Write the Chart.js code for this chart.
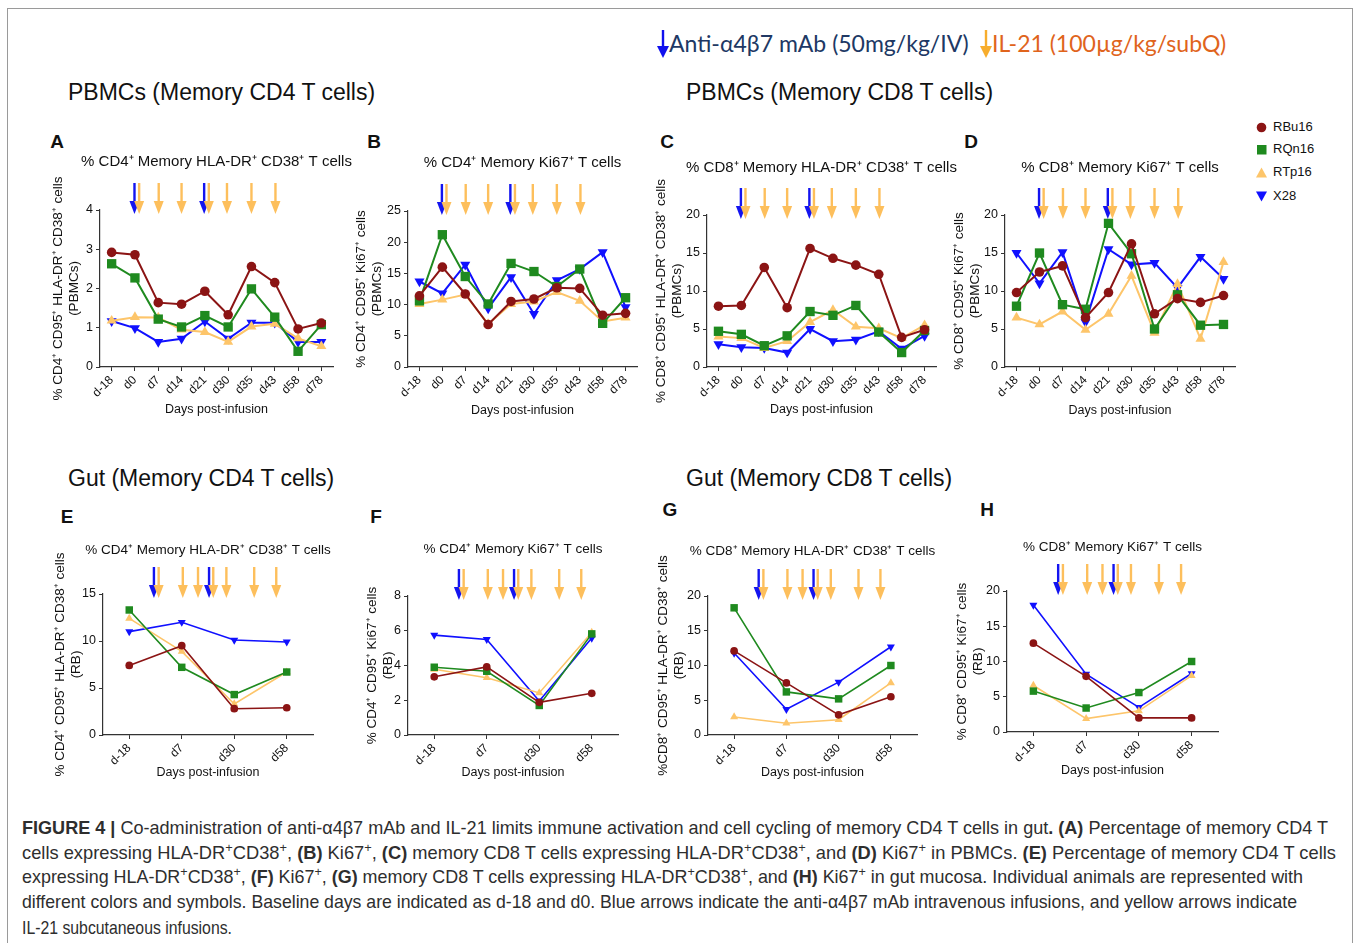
<!DOCTYPE html>
<html>
<head>
<meta charset="utf-8">
<script src="https://cdn.jsdelivr.net/npm/chart.js@4.4.1/dist/chart.umd.min.js"></script>
<style>
  body { margin: 0; background: #fff; width: 1360px; height: 943px; position: relative; overflow: hidden;
         font-family: 'Liberation Sans', Arial, sans-serif; color: #111; }
  .frame { position: absolute; left: 7px; top: 8px; width: 1344px; height: 960px; border: 1px solid #9a9a9a; }
  canvas.panel { position: absolute; }
  .head { position: absolute; font-size: 23px; line-height: 23px; white-space: nowrap; color: #111; }
  .letter { position: absolute; font-size: 19px; font-weight: bold; transform: translate(-50%, -50%); }
  .dose { position: absolute; top: 29px; font-family: Lato, 'Open Sans', sans-serif; font-size: 23px; line-height: 28px; white-space: nowrap; }
  .legend { position: absolute; left: 1256px; font-size: 13px; line-height: 16px; white-space: nowrap; }
  .legend svg { vertical-align: -2px; margin-right: 6px; }
  .cap { position: absolute; left: 22px; font-family: 'Liberation Sans', sans-serif; transform-origin: 0 50%;
         font-size: 18.5px; line-height: 20px; color: #2e2e2e; white-space: nowrap; }
  .cap sup { font-size: 0.7em; line-height: 0; vertical-align: 0.55em; }
</style>
</head>
<body>
<div class="frame"></div>

<div class="dose" style="left:657px;color:#203864">
  <svg width="12" height="28" style="vertical-align:-6px"><rect x="4.8" y="0" width="2.4" height="18" fill="#1010ee"/><path d="M0 16 L12 16 L6 28 Z" fill="#1010ee"/></svg>Anti-α4β7 mAb (50mg/kg/IV)
</div>
<div class="dose" style="left:980px;color:#e0641c">
  <svg width="12" height="28" style="vertical-align:-6px"><rect x="4.8" y="0" width="2.4" height="18" fill="#f7ad2d"/><path d="M0 16 L12 16 L6 28 Z" fill="#f7ad2d"/></svg>IL-21 (100µg/kg/subQ)
</div>

<div class="head" style="left:68px;top:81px">PBMCs (Memory CD4 T cells)</div>
<div class="head" style="left:686px;top:81px">PBMCs (Memory CD8 T cells)</div>
<div class="head" style="left:68px;top:467px">Gut (Memory CD4 T cells)</div>
<div class="head" style="left:686px;top:467px">Gut (Memory CD8 T cells)</div>

<div class="letter" style="left:57px;top:142px">A</div>
<div class="letter" style="left:374px;top:142px">B</div>
<div class="letter" style="left:667px;top:142px">C</div>
<div class="letter" style="left:971px;top:142px">D</div>
<div class="letter" style="left:67px;top:517px">E</div>
<div class="letter" style="left:376px;top:517px">F</div>
<div class="letter" style="left:670px;top:510px">G</div>
<div class="letter" style="left:987px;top:510px">H</div>

<div class="legend" style="top:119px"><svg width="11" height="11"><circle cx="5.5" cy="5.5" r="4.8" fill="#8b1414"/></svg>RBu16</div>
<div class="legend" style="top:141px"><svg width="11" height="11"><rect x="1" y="1" width="9.5" height="9.5" fill="#1f8a1f"/></svg>RQn16</div>
<div class="legend" style="top:164px"><svg width="11" height="11"><path d="M5.5 0.5 L11 10.5 L0 10.5 Z" fill="#fdc56a"/></svg>RTp16</div>
<div class="legend" style="top:188px"><svg width="11" height="11"><path d="M0 0.5 L11 0.5 L5.5 10.5 Z" fill="#1010ff"/></svg>X28</div>

<canvas class="panel" id="cA"></canvas>
<canvas class="panel" id="cB"></canvas>
<canvas class="panel" id="cC"></canvas>
<canvas class="panel" id="cD"></canvas>
<canvas class="panel" id="cE"></canvas>
<canvas class="panel" id="cF"></canvas>
<canvas class="panel" id="cG"></canvas>
<canvas class="panel" id="cH"></canvas>

<div class="cap" style="top:818px" data-w="1306"><b>FIGURE 4 |</b> Co-administration of anti-α4β7 mAb and IL-21 limits immune activation and cell cycling of memory CD4 T cells in gut<b>.</b> <b>(A)</b> Percentage of memory CD4 T</div>
<div class="cap" style="top:843px" data-w="1314">cells expressing HLA-DR<sup>+</sup>CD38<sup>+</sup>, <b>(B)</b> Ki67<sup>+</sup>, <b>(C)</b> memory CD8 T cells expressing HLA-DR<sup>+</sup>CD38<sup>+</sup>, and <b>(D)</b> Ki67<sup>+</sup> in PBMCs. <b>(E)</b> Percentage of memory CD4 T cells</div>
<div class="cap" style="top:867px" data-w="1281">expressing HLA-DR<sup>+</sup>CD38<sup>+</sup>, <b>(F)</b> Ki67<sup>+</sup>, <b>(G)</b> memory CD8 T cells expressing HLA-DR<sup>+</sup>CD38<sup>+</sup>, and <b>(H)</b> Ki67<sup>+</sup> in gut mucosa. Individual animals are represented with</div>
<div class="cap" style="top:892px" data-w="1275">different colors and symbols. Baseline days are indicated as d-18 and d0. Blue arrows indicate the anti-α4β7 mAb intravenous infusions, and yellow arrows indicate</div>
<div class="cap" style="top:918px" data-w="210">IL-21 subcutaneous infusions.</div>

<script>
// sampling days
const daysPBMC = ['d-18', 'd0', 'd7', 'd14', 'd21', 'd30', 'd35', 'd43', 'd58', 'd78'];
const daysGut = ['d-18', 'd7', 'd30', 'd58'];

// dosing arrows, in category index units
const pbmcBlue = [0.98, 3.97];
const pbmcOrange = [1.18, 2.02, 3.0, 4.17, 4.95, 6.0, 7.03];
const gutBlue = [0.47, 1.52];
const gutOrange = [0.56, 1.02, 1.31, 1.6, 1.85, 2.38, 2.8];

// A - PBMC CD4 HLA-DR+CD38+
const rbuA = [2.92, 2.86, 1.64, 1.60, 1.93, 1.33, 2.56, 2.15, 0.97, 1.12];
const rqnA = [2.63, 2.27, 1.22, 1.02, 1.31, 1.02, 1.99, 1.27, 0.40, 1.08];
const rtpA = [1.18, 1.27, 1.26, 0.95, 0.89, 0.64, 1.03, 1.10, 0.73, 0.53];
const x28A = [1.17, 0.99, 0.64, 0.72, 1.16, 0.72, 1.13, 1.13, 0.64, 0.64];
// B - PBMC CD4 Ki67+
const rbuB = [11.4, 16.0, 11.7, 6.8, 10.5, 10.9, 12.7, 12.6, 8.3, 8.6];
const rqnB = [10.6, 21.2, 14.5, 10.1, 16.6, 15.3, 12.9, 15.7, 7.0, 11.1];
const rtpB = [10.1, 10.8, 11.6, 6.9, 10.1, 10.5, 12.0, 10.6, 7.3, 7.9];
const x28B = [13.7, 11.8, 16.4, 9.4, 14.4, 8.5, 13.9, 15.7, 18.4, 9.6];
// C - PBMC CD8 HLA-DR+CD38+
const rbuC = [8.0, 8.1, 13.1, 7.8, 15.6, 14.3, 13.4, 12.2, 3.9, 4.9];
const rqnC = [4.7, 4.3, 2.8, 4.1, 7.3, 6.8, 8.1, 4.6, 1.9, 4.8];
const rtpC = [4.0, 3.8, 2.5, 3.4, 5.9, 7.5, 5.3, 5.1, 3.8, 5.5];
const x28C = [3.0, 2.6, 2.5, 1.9, 5.0, 3.4, 3.6, 4.7, 2.4, 4.1];
// D - PBMC CD8 Ki67+
const rbuD = [9.8, 12.5, 13.3, 6.5, 9.8, 16.2, 7.0, 9.0, 8.5, 9.4];
const rqnD = [8.0, 15.0, 8.2, 7.6, 18.9, 14.9, 5.0, 9.5, 5.5, 5.6];
const rtpD = [6.5, 5.6, 7.3, 4.9, 7.0, 12.0, 4.5, 10.9, 3.7, 13.8];
const x28D = [15.0, 11.0, 15.1, 5.9, 15.5, 13.5, 13.7, 10.4, 14.5, 11.6];
// E - gut CD4 HLA-DR+CD38+
const rbuE = [7.4, 9.5, 2.8, 2.9];
const rqnE = [13.3, 7.2, 4.3, 6.7];
const rtpE = [12.4, 8.9, 3.3, 6.7];
const x28E = [11.0, 12.0, 10.1, 9.9];
// F - gut CD4 Ki67+
const rbuF = [3.35, 3.92, 1.88, 2.4];
const rqnF = [3.9, 3.67, 1.7, 5.82];
const rtpF = [3.78, 3.3, 2.42, 5.9];
const x28F = [5.75, 5.5, 1.95, 5.58];
// G - gut CD8 HLA-DR+CD38+
const rbuG = [12.1, 7.5, 2.9, 5.5];
const rqnG = [18.3, 6.2, 5.2, 10.0];
const rtpG = [2.6, 1.7, 2.2, 7.5];
const x28G = [11.8, 3.7, 7.6, 12.7];
// H - gut CD8 Ki67+
const rbuH = [12.6, 7.9, 2.0, 2.0];
const rqnH = [5.8, 3.4, 5.6, 10.0];
const rtpH = [6.6, 1.9, 3.0, 8.0];
const x28H = [18.0, 8.2, 3.5, 8.3];

const animals = [
    { label: 'RBu16', color: '#8b1414', style: 'circle', r: 4.8, rot: 0 },
    { label: 'RQn16', color: '#1f8a1f', style: 'rect', r: 6.6, rot: 0 },
    { label: 'RTp16', color: '#fdc56a', style: 'triangle', r: 5.8, rot: 0 },
    { label: 'X28', color: '#1010ff', style: 'triangle', r: 5.8, rot: 180 }
];

Chart.defaults.font.family = "'Liberation Sans', Arial, sans-serif";
Chart.defaults.color = '#111';

const arrowPlugin = {
    id: 'doseArrows',
    afterDraw(chart, args, opts) {
        const { ctx, chartArea, scales } = chart;
        const top = chartArea.top;
        const draw = (pos, color) => {
            const x = scales.x.getPixelForValue(pos);
            ctx.save();
            ctx.strokeStyle = color;
            ctx.fillStyle = color;
            ctx.lineWidth = 2.4;
            ctx.beginPath();
            ctx.moveTo(x, top - 27);
            ctx.lineTo(x, top - 7);
            ctx.stroke();
            ctx.beginPath();
            ctx.moveTo(x - 5, top - 9);
            ctx.lineTo(x + 5, top - 9);
            ctx.lineTo(x, top + 4);
            ctx.closePath();
            ctx.fill();
            ctx.restore();
        };
        opts.blue.forEach(p => draw(p, '#1414f0'));
        opts.orange.forEach(p => draw(p, '#fdbf5c'));
    }
};

// panel title centred on the plot area, free to run wider than it
const titlePlugin = {
    id: 'panelTitle',
    afterDraw(chart, args, opts) {
        const { ctx, chartArea } = chart;
        ctx.save();
        ctx.font = opts.size + "px 'Liberation Sans', Arial, sans-serif";
        ctx.fillStyle = '#111';
        ctx.textAlign = 'center';
        ctx.textBaseline = 'middle';
        ctx.fillText(opts.text, (chartArea.left + chartArea.right) / 2, opts.y);
        ctx.restore();
    }
};

function buildPanel(id, g, labels, series, yMax, yStep, title, yTitle, blue, orange, small) {
    const left = g.yTitleX - 12;
    const top = g.titleY - 12;
    const extraRight = 45;   // room for titles wider than the plot
    const width = g.plotRight + extraRight - left;
    const height = g.xTitleY + 11 - top;
    const canvas = document.getElementById(id);
    canvas.width = width;
    canvas.height = height;
    canvas.style.left = left + 'px';
    canvas.style.top = top + 'px';
    canvas.style.width = width + 'px';
    canvas.style.height = height + 'px';

    const k = small ? 0.8 : 1;
    const datasets = series.map((values, i) => ({
        label: animals[i].label,
        data: values,
        borderColor: animals[i].color,
        backgroundColor: animals[i].color,
        pointBackgroundColor: animals[i].color,
        pointBorderWidth: 0,
        pointStyle: animals[i].style,
        pointRadius: animals[i].r * k,
        pointRotation: animals[i].rot,
        borderWidth: small ? 1.6 : 2,
        tension: 0,
        clip: false
    }));

    new Chart(canvas, {
        type: 'line',
        data: { labels: labels, datasets: datasets },
        options: {
            responsive: false,
            animation: false,
            devicePixelRatio: 1,
            layout: { padding: { top: g.plotTop - top, right: extraRight, bottom: 0, left: 0 } },
            scales: {
                x: {
                    type: 'category',
                    offset: true,
                    grid: { drawOnChartArea: false, tickLength: 4, color: '#333' },
                    border: { color: '#333', width: 1.2 },
                    ticks: { autoSkip: false, maxRotation: 45, minRotation: 45, padding: 2,
                             font: { size: 12 }, color: '#111' },
                    title: { display: true, text: 'Days post-infusion', font: { size: 12.5 },
                             padding: { top: 0, bottom: 4 }, color: '#111' },
                    afterFit: (scale) => { scale.height = height - (g.plotBottom - top); }
                },
                y: {
                    min: 0,
                    max: yMax,
                    grid: { drawOnChartArea: false, tickLength: 4, color: '#333' },
                    border: { color: '#333', width: 1.2 },
                    ticks: { stepSize: yStep, padding: 3, font: { size: 12.5 }, color: '#111' },
                    title: { display: true, text: yTitle, font: { size: 13.5, lineHeight: 1.2 },
                             padding: { top: 4, bottom: 0 }, color: '#111' },
                    afterFit: (scale) => { scale.width = g.axisX - left; }
                }
            },
            plugins: {
                legend: { display: false },
                tooltip: { enabled: false },
                title: { display: false },
                panelTitle: { text: title, y: 12, size: small ? 13.5 : 15 },
                doseArrows: { blue: blue, orange: orange }
            }
        },
        plugins: [arrowPlugin, titlePlugin]
    });
}

const tCD4act = '% CD4⁺ Memory HLA-DR⁺ CD38⁺ T cells';
const tCD4ki = '% CD4⁺ Memory Ki67⁺ T cells';
const tCD8act = '% CD8⁺ Memory HLA-DR⁺ CD38⁺ T cells';
const tCD8ki = '% CD8⁺ Memory Ki67⁺ T cells';

buildPanel('cA', { axisX: 100, plotRight: 333, plotTop: 210, plotBottom: 367, titleY: 162, xTitleY: 410, yTitleX: 58 },
    daysPBMC, [rbuA, rqnA, rtpA, x28A], 4, 1, tCD4act,
    ['% CD4⁺ CD95⁺ HLA-DR⁺ CD38⁺ cells', '(PBMCs)'], pbmcBlue, pbmcOrange, false);
buildPanel('cB', { axisX: 408, plotRight: 637, plotTop: 211, plotBottom: 367, titleY: 163, xTitleY: 411, yTitleX: 361 },
    daysPBMC, [rbuB, rqnB, rtpB, x28B], 25, 5, tCD4ki,
    ['% CD4⁺ CD95⁺ Ki67⁺ cells', '(PBMCs)'], pbmcBlue, pbmcOrange, false);
buildPanel('cC', { axisX: 707, plotRight: 936, plotTop: 215, plotBottom: 367, titleY: 168, xTitleY: 410, yTitleX: 661 },
    daysPBMC, [rbuC, rqnC, rtpC, x28C], 20, 5, tCD8act,
    ['% CD8⁺ CD95⁺ HLA-DR⁺ CD38⁺ cells', '(PBMCs)'], pbmcBlue, pbmcOrange, false);
buildPanel('cD', { axisX: 1005, plotRight: 1235, plotTop: 215, plotBottom: 367, titleY: 168, xTitleY: 411, yTitleX: 959 },
    daysPBMC, [rbuD, rqnD, rtpD, x28D], 20, 5, tCD8ki,
    ['% CD8⁺ CD95⁺ Ki67⁺ cells', '(PBMCs)'], pbmcBlue, pbmcOrange, false);

buildPanel('cE', { axisX: 103, plotRight: 313, plotTop: 594, plotBottom: 735, titleY: 550, xTitleY: 773, yTitleX: 60 },
    daysGut, [rbuE, rqnE, rtpE, x28E], 15, 5, tCD4act,
    ['% CD4⁺ CD95⁺ HLA-DR⁺ CD38⁺ cells', '(RB)'], gutBlue, gutOrange, true);
buildPanel('cF', { axisX: 408, plotRight: 618, plotTop: 596, plotBottom: 735, titleY: 549, xTitleY: 773, yTitleX: 372 },
    daysGut, [rbuF, rqnF, rtpF, x28F], 8, 2, tCD4ki,
    ['% CD4⁺ CD95⁺ Ki67⁺ cells', '(RB)'], gutBlue, gutOrange, true);
buildPanel('cG', { axisX: 708, plotRight: 917, plotTop: 596, plotBottom: 735, titleY: 551, xTitleY: 773, yTitleX: 663 },
    daysGut, [rbuG, rqnG, rtpG, x28G], 20, 5, tCD8act,
    ['%CD8⁺ CD95⁺ HLA-DR⁺ CD38⁺ cells', '(RB)'], gutBlue, gutOrange, true);
buildPanel('cH', { axisX: 1007, plotRight: 1218, plotTop: 591, plotBottom: 732, titleY: 547, xTitleY: 771, yTitleX: 962 },
    daysGut, [rbuH, rqnH, rtpH, x28H], 20, 5, tCD8ki,
    ['% CD8⁺ CD95⁺ Ki67⁺ cells', '(RB)'], gutBlue, gutOrange, true);

// squeeze caption lines to the widths they have in the figure (condensed face)
document.querySelectorAll('.cap[data-w]').forEach(el => {
    const target = parseFloat(el.dataset.w);
    const natural = el.getBoundingClientRect().width;
    el.style.transform = 'scaleX(' + (target / natural).toFixed(4) + ')';
});
</script>
</body>
</html>
